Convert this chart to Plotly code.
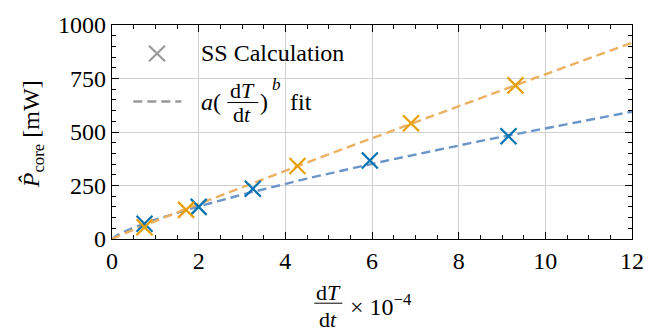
import numpy as np
import plotly.graph_objects as go

# data
blue_x = [0.75, 2.0, 3.25, 5.95, 9.15]
blue_y = [71, 150, 235, 367, 480]
orange_x = [0.75, 1.71, 4.28, 6.9, 9.31]
orange_y = [55, 136, 341, 541, 718]
# power-law fit parameters a*(x)^b
blue_fit = [90.0, 0.76]
orange_fit = [84.4, 0.96]
x_ticks = [0, 2, 4, 6, 8, 10, 12]
y_ticks = [0, 250, 500, 750, 1000]

BLUE = "#0072B2"
ORANGE = "#E69F00"
BLUE_FIT = "#6A95C9"
ORANGE_FIT = "#EBB062"
FONT = "Liberation Serif"
W, H = 658, 335
L, R, T, B = 111.7, 26.3, 19, 96
PW, PH = W - L - R, H - T - B

def px(x):
    return (x - L) / PW

def py(y):
    return (H - B - y) / PH

xs = np.linspace(0, 12, 241)
fig = go.Figure()
for (a, b), col in [(blue_fit, BLUE_FIT), (orange_fit, ORANGE_FIT)]:
    fig.add_trace(go.Scatter(x=xs, y=a * xs ** b, mode="lines",
                             line=dict(color=col, width=2.4, dash="9px,5px"),
                             showlegend=False, hoverinfo="skip"))
for xv, yv, col in [(blue_x, blue_y, BLUE), (orange_x, orange_y, ORANGE)]:
    fig.add_trace(go.Scatter(x=xv, y=yv, mode="markers",
                             marker=dict(symbol="x-thin-open", size=16, color=col,
                                         line=dict(color=col, width=2.2)),
                             showlegend=False))

axis_common = dict(
    showline=True, linecolor="black", linewidth=1.3, mirror="allticks",
    ticks="inside", ticklen=7, tickwidth=1.2, tickcolor="black",
    showgrid=True, gridcolor="#d0d0d0", gridwidth=1, zeroline=False,
    tickfont=dict(family=FONT, size=24, color="black"),
)
fig.update_xaxes(range=[0, 12], tickvals=x_ticks,
                 minor=dict(dtick=0.5, ticks="inside", ticklen=4, tickwidth=1, tickcolor="black", showgrid=False),
                 **axis_common)
fig.update_yaxes(range=[0, 1000], tickvals=y_ticks,
                 minor=dict(dtick=50, ticks="inside", ticklen=4, tickwidth=1, tickcolor="black", showgrid=False),
                 **axis_common)

ann = []
shapes = []
def text(x, y, s, size=24, xanchor="center", yanchor="middle", angle=0):
    ann.append(dict(x=px(x), y=py(y), xref="paper", yref="paper", text=s, showarrow=False,
                    xanchor=xanchor, yanchor=yanchor, textangle=angle,
                    font=dict(family=FONT, size=size, color="black")))

# legend
GRAY = "#999999"
cx, cy, r = 156.7, 48.3, 8
shapes.append(dict(type="line", xref="paper", yref="paper", x0=px(cx - r), y0=py(cy - r), x1=px(cx + r), y1=py(cy + r), line=dict(color=GRAY, width=2.2)))
shapes.append(dict(type="line", xref="paper", yref="paper", x0=px(cx - r), y0=py(cy + r), x1=px(cx + r), y1=py(cy - r), line=dict(color=GRAY, width=2.2)))
text(199, 48, "SS Calculation", xanchor="left")
shapes.append(dict(type="line", xref="paper", yref="paper", x0=px(133), y0=py(97.7), x1=px(181), y1=py(97.7), line=dict(color=GRAY, width=2.4, dash="9px,5px")))
text(199, 98, "<i>a</i>(", xanchor="left")
text(242, 86, "d<i>T</i>", size=22)
shapes.append(dict(type="line", xref="paper", yref="paper", x0=px(227), y0=py(98.7), x1=px(258), y1=py(98.7), line=dict(color="black", width=1)))
text(242, 111, "d<i>t</i>", size=22)
text(258, 98, ")", xanchor="left")
text(270, 80, "<i>b</i>", size=17, xanchor="left")
text(288, 98, "fit", xanchor="left")

# x title
text(328, 294, "d<i>T</i>", size=22)
shapes.append(dict(type="line", xref="paper", yref="paper", x0=px(314), y0=py(305), x1=px(342), y1=py(305), line=dict(color="black", width=1)))
text(328, 322, "d<i>t</i>", size=22)
text(348, 307, "× 10<sup>−4</sup>", xanchor="left")

# y title
text(33, 131, "<i>P̂</i><sub>core</sub> [mW]", angle=-90)

fig.update_layout(width=W, height=H, margin=dict(l=L, r=R, t=T, b=B),
                  plot_bgcolor="white", paper_bgcolor="white",
                  font=dict(family=FONT, color="black"),
                  annotations=ann, shapes=shapes, showlegend=False)
fig.write_html("out.html")
